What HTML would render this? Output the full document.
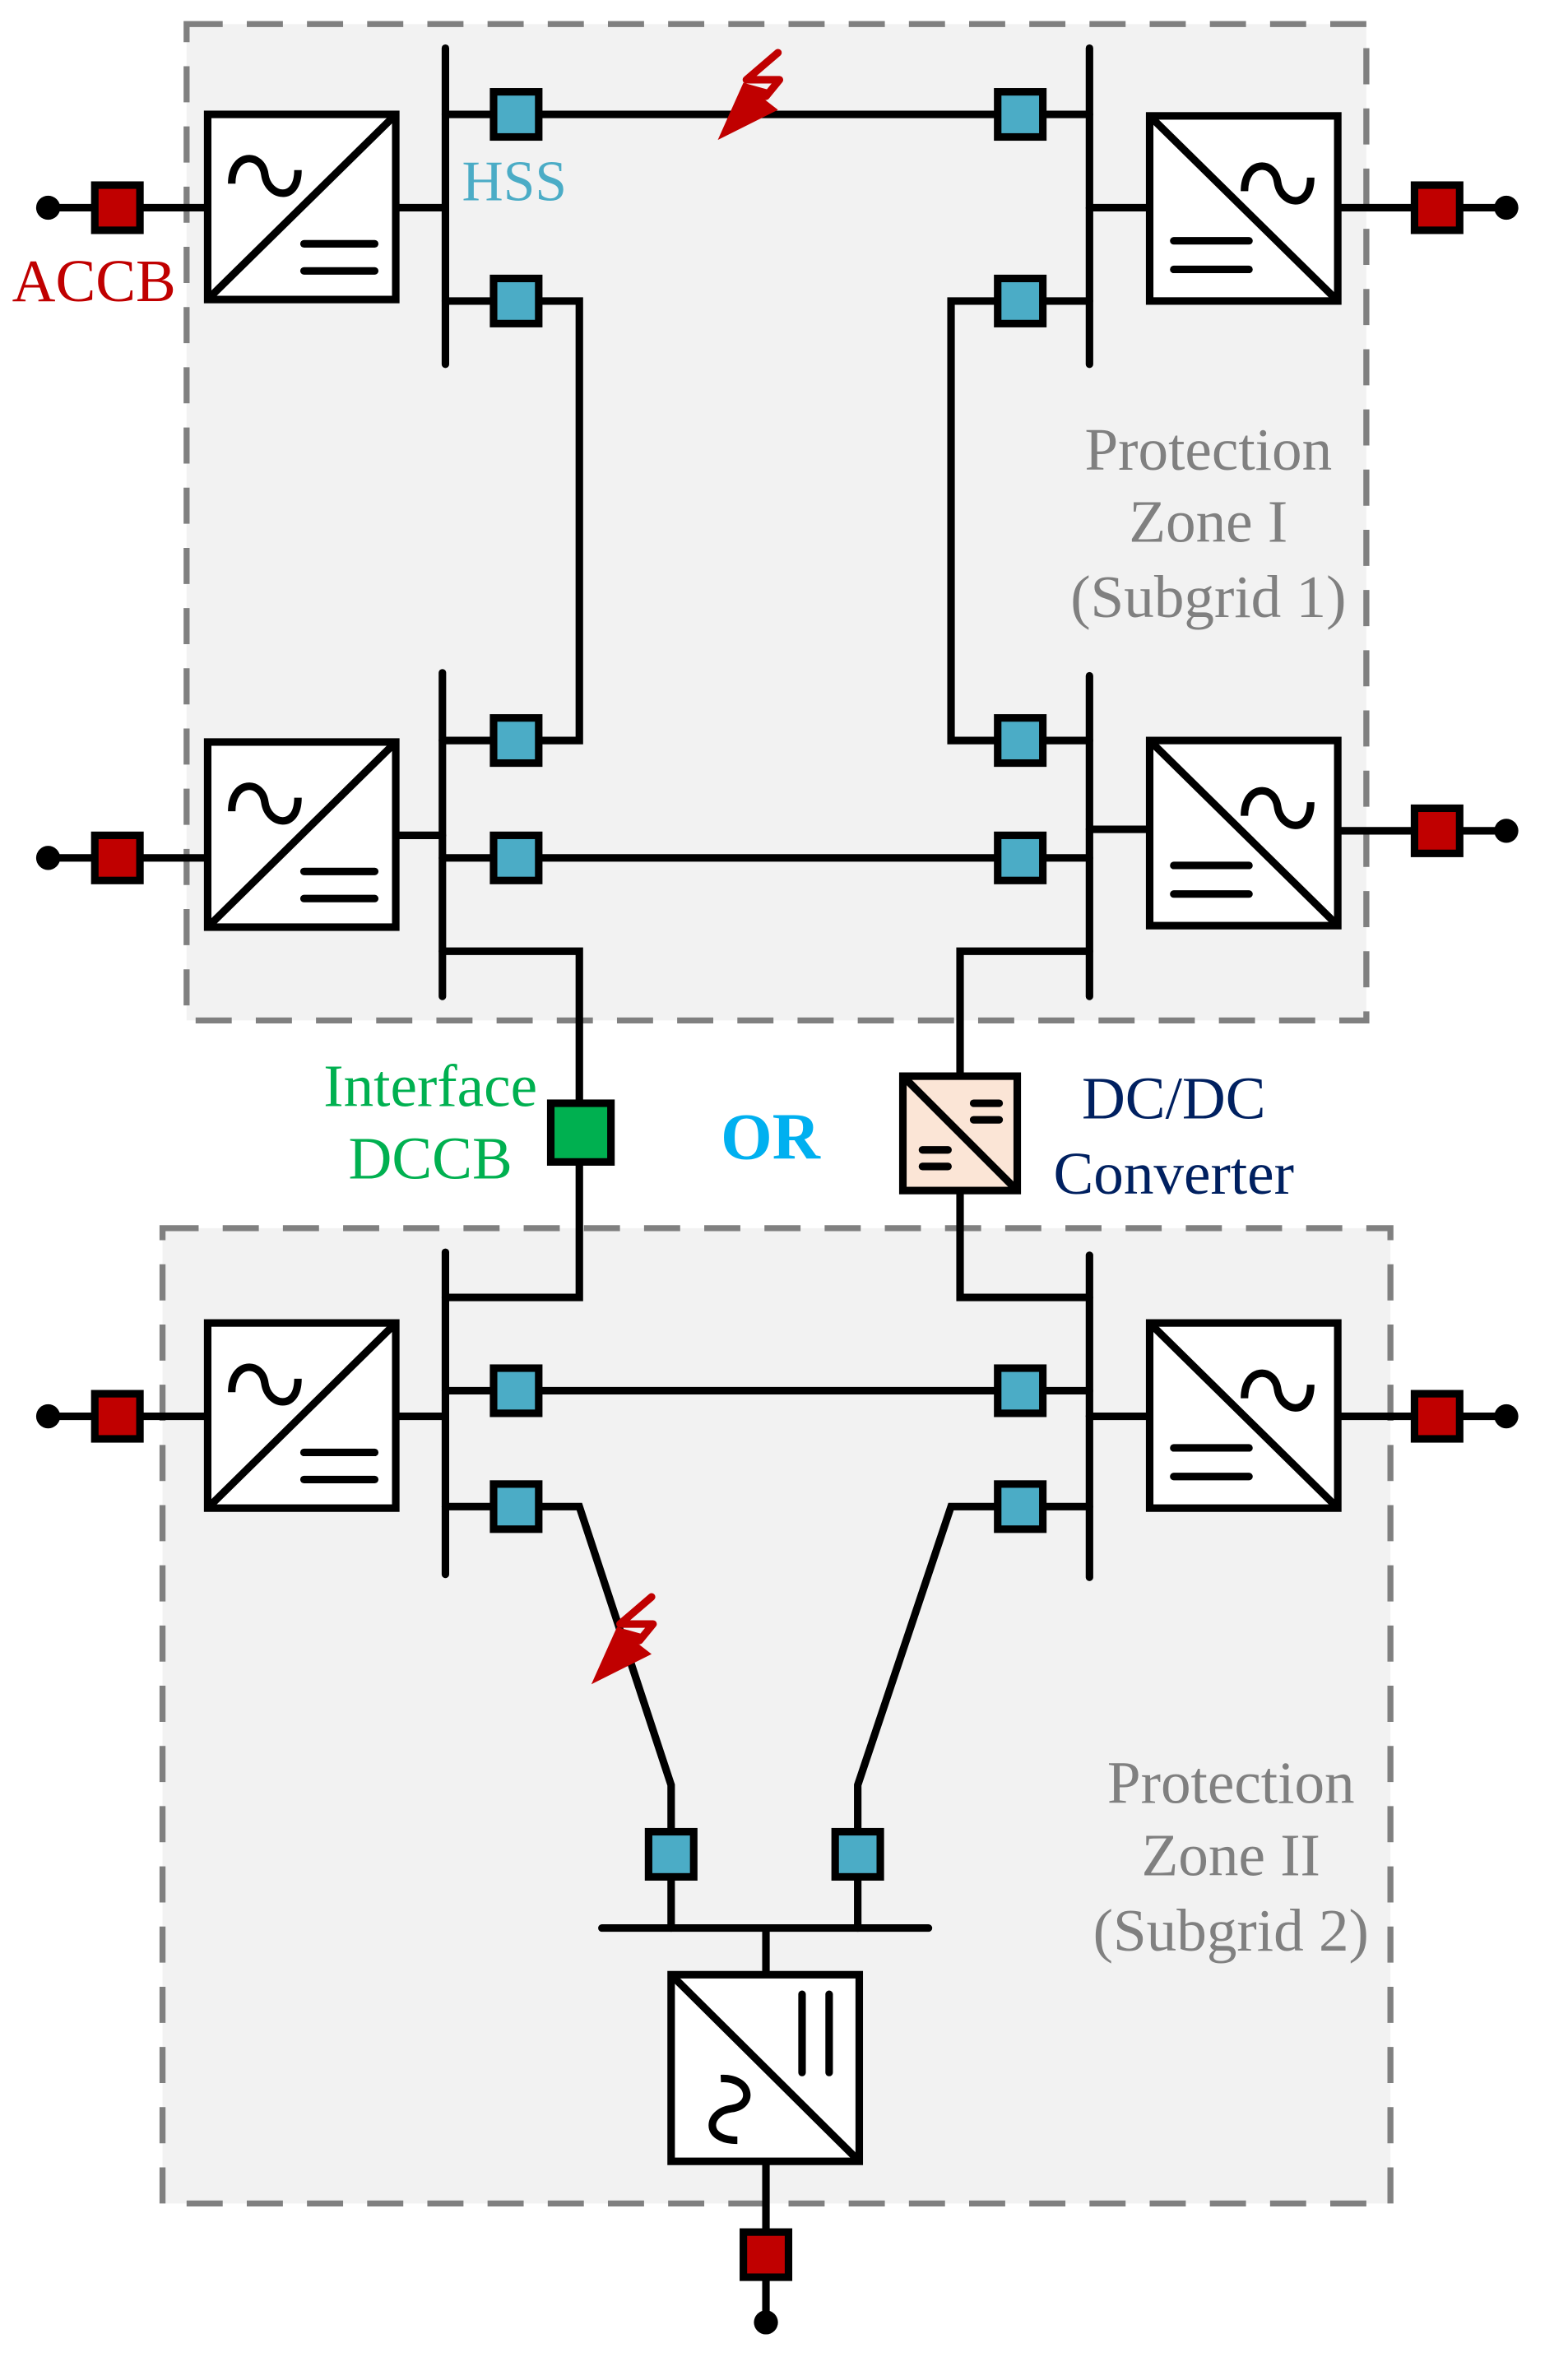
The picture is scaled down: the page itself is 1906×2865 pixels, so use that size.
<!DOCTYPE html>
<html><head><meta charset="utf-8"><style>html,body{margin:0;padding:0;background:#fff}svg{display:block}
.t{font-family:"Liberation Serif","DejaVu Serif",serif;font-size:40px}</style></head>
<body>
<svg width="1906" height="2865" viewBox="0 0 1042 1566" preserveAspectRatio="none" xmlns="http://www.w3.org/2000/svg">
<defs>
<path id="tilde" d="M0,18 C0,-3 20,-3 22,12 S44,31 44,9" fill="none" stroke="#000" stroke-width="5"/>
<g id="convA">
<rect x="0" y="0" width="125" height="123" fill="#fff" stroke="#000" stroke-width="5"/>
<line x1="2" y1="121" x2="123" y2="2" stroke="#000" stroke-width="5"/>
<use href="#tilde" x="16" y="28"/>
<line x1="64" y1="86" x2="111" y2="86" stroke="#000" stroke-width="5" stroke-linecap="round"/>
<line x1="64" y1="104" x2="111" y2="104" stroke="#000" stroke-width="5" stroke-linecap="round"/>
</g>
<g id="convB">
<rect x="0" y="0" width="125" height="123" fill="#fff" stroke="#000" stroke-width="5"/>
<line x1="2" y1="2" x2="123" y2="121" stroke="#000" stroke-width="5"/>
<use href="#tilde" x="63" y="32"/>
<line x1="16" y1="83" x2="66" y2="83" stroke="#000" stroke-width="5" stroke-linecap="round"/>
<line x1="16" y1="102" x2="66" y2="102" stroke="#000" stroke-width="5" stroke-linecap="round"/>
</g>
<g id="hss"><rect x="-15" y="-15" width="30" height="30" fill="#4bacc6" stroke="#000" stroke-width="5"/></g>
<g id="accb"><rect x="-15" y="-15" width="30" height="30" fill="#c00000" stroke="#000" stroke-width="5"/></g>
<g id="bolt">
<polyline points="19,1 -2,19 20,19 11,30" fill="none" stroke="#c00000" stroke-width="5" stroke-linecap="round" stroke-linejoin="round"/>
<polygon points="-4,21 14,26 10,32 19,39 -21,59" fill="#c00000"/>
</g>
</defs>
<rect x="124" y="16" width="784" height="662" fill="#f2f2f2" stroke="#808080" stroke-width="4" stroke-dasharray="24,16"/>
<rect x="108" y="816" width="816" height="648" fill="#f2f2f2" stroke="#808080" stroke-width="4" stroke-dasharray="24,16"/>
<g stroke="#000" stroke-width="5" fill="none" stroke-linecap="round">
<line x1="296" y1="32" x2="296" y2="242"/><line x1="724" y1="32" x2="724" y2="242"/>
<line x1="263" y1="138" x2="296" y2="138"/><line x1="724" y1="138" x2="764" y2="138"/>
<line x1="296" y1="76" x2="724" y2="76"/>
<polyline points="296,200 385,200 385,492 294,492"/>
<polyline points="724,200 632,200 632,492 724,492"/>
<line x1="294" y1="447" x2="294" y2="662"/><line x1="724" y1="449" x2="724" y2="662"/>
<line x1="263" y1="555" x2="294" y2="555"/><line x1="724" y1="551" x2="764" y2="551"/>
<line x1="294" y1="570" x2="724" y2="570"/>
<polyline points="294,632 385,632 385,862 296,862"/>
<polyline points="724,632 638,632 638,862 724,862"/>
<line x1="296" y1="832" x2="296" y2="1046"/><line x1="724" y1="834" x2="724" y2="1048"/>
<line x1="263" y1="941" x2="296" y2="941"/><line x1="724" y1="941" x2="764" y2="941"/>
<line x1="296" y1="924" x2="724" y2="924"/>
<polyline points="296,1001 385,1001 446,1186 446,1281"/>
<polyline points="724,1001 632,1001 570,1186 570,1281"/>
<line x1="400" y1="1281" x2="617" y2="1281"/>
<line x1="509" y1="1281" x2="509" y2="1312"/>
<line x1="509" y1="1436" x2="509" y2="1543"/>
<line x1="32" y1="138" x2="138" y2="138"/><line x1="32" y1="570" x2="138" y2="570"/><line x1="32" y1="941" x2="138" y2="941"/>
<line x1="888" y1="138" x2="1001" y2="138"/><line x1="888" y1="552" x2="1001" y2="552"/><line x1="888" y1="941" x2="1001" y2="941"/>
</g>
<g fill="#000">
<circle cx="32" cy="138" r="8"/><circle cx="32" cy="570" r="8"/><circle cx="32" cy="941" r="8"/>
<circle cx="1001" cy="138" r="8"/><circle cx="1001" cy="552" r="8"/><circle cx="1001" cy="941" r="8"/>
<circle cx="509" cy="1543" r="8"/>
</g>
<use href="#accb" x="78" y="138"/><use href="#accb" x="78" y="570"/><use href="#accb" x="78" y="941"/>
<use href="#accb" x="955" y="138"/><use href="#accb" x="955" y="552"/><use href="#accb" x="955" y="941"/>
<use href="#accb" x="509" y="1498"/>
<use href="#hss" x="343" y="76"/><use href="#hss" x="343" y="200"/><use href="#hss" x="678" y="76"/><use href="#hss" x="678" y="200"/>
<use href="#hss" x="343" y="492"/><use href="#hss" x="343" y="570"/><use href="#hss" x="678" y="492"/><use href="#hss" x="678" y="570"/>
<use href="#hss" x="343" y="924"/><use href="#hss" x="343" y="1001"/><use href="#hss" x="678" y="924"/><use href="#hss" x="678" y="1001"/>
<use href="#hss" x="446" y="1232"/><use href="#hss" x="570" y="1232"/>
<use href="#convA" transform="translate(138,76)"/>
<use href="#convA" transform="translate(138,493)"/>
<use href="#convA" transform="translate(138,879)"/>
<use href="#convB" transform="translate(764,77)"/>
<use href="#convB" transform="translate(764,492)"/>
<use href="#convB" transform="translate(764,879)"/>
<g stroke="#000" stroke-width="5" fill="none">
<rect x="446" y="1312" width="125" height="124" fill="#fff"/>
<line x1="448" y1="1314" x2="569" y2="1434"/>
<line x1="533" y1="1325" x2="533" y2="1377" stroke-linecap="round"/>
<line x1="551" y1="1325" x2="551" y2="1377" stroke-linecap="round"/>
<path d="M479,1381 C499,1380 502,1399 486,1401 C470,1403 467,1422 490,1422"/>
</g>
<rect x="366" y="733" width="40" height="39" fill="#00b050" stroke="#000" stroke-width="5"/>
<g stroke="#000" stroke-width="5" fill="none">
<rect x="600" y="715" width="76" height="76" fill="#fbe5d6"/>
<line x1="602" y1="717" x2="674" y2="789"/>
<line x1="647" y1="733" x2="664" y2="733" stroke-linecap="round"/><line x1="647" y1="744" x2="664" y2="744" stroke-linecap="round"/>
<line x1="613" y1="764" x2="630" y2="764" stroke-linecap="round"/><line x1="613" y1="775" x2="630" y2="775" stroke-linecap="round"/>
</g>
<use href="#bolt" transform="translate(498,34)"/>
<use href="#bolt" transform="translate(414,1060)"/>
<g class="t">
<text x="8" y="200" fill="#c00000">ACCB</text>
<text x="307" y="133" fill="#4bacc6" style="font-size:38px">HSS</text>
<g fill="#808080" text-anchor="middle">
<text x="803" y="312">Protection</text><text x="803" y="360">Zone I</text><text x="803" y="410">(Subgrid 1)</text>
<text x="818" y="1198">Protection</text><text x="818" y="1246">Zone II</text><text x="818" y="1296">(Subgrid 2)</text>
</g>
<g fill="#00b050" text-anchor="middle"><text x="286" y="735">Interface</text><text x="286" y="783">DCCB</text></g>
<g fill="#002060" text-anchor="middle"><text x="780" y="743">DC/DC</text><text x="780" y="793">Converter</text></g>
<text x="512" y="770" fill="#00b0f0" font-weight="bold" style="font-size:44px" text-anchor="middle">OR</text>
</g>
</svg>
</body></html>
